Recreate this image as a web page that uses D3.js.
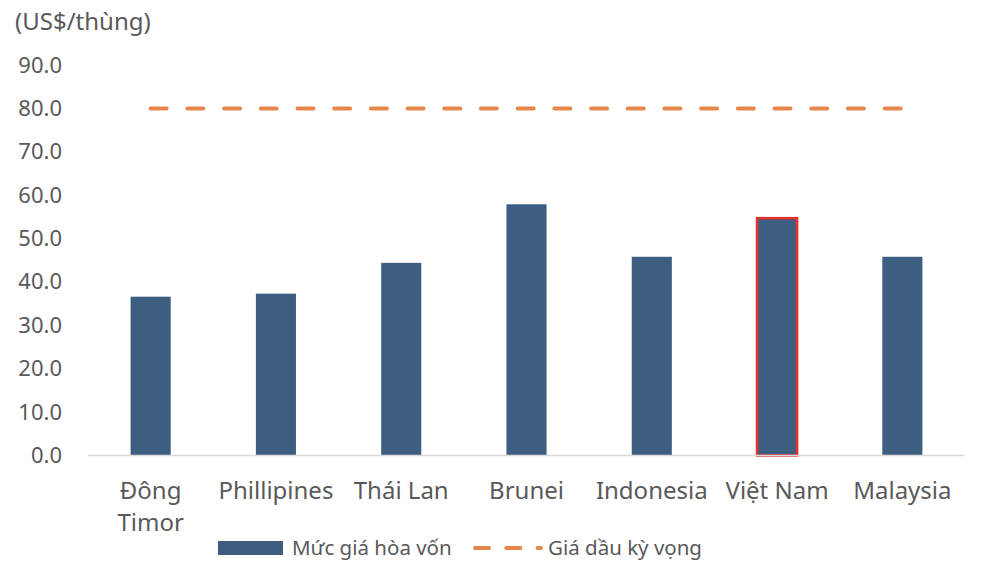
<!DOCTYPE html>
<html>
<head>
<meta charset="utf-8">
<script src="https://cdn.jsdelivr.net/npm/d3@7/dist/d3.min.js"></script>
<style>
  body { margin: 0; background: #fff; }
  text { font-family: 'Noto Sans', 'Open Sans', sans-serif; fill: #595959; }
</style>
</head>
<body>
<div id="chart"></div>
<script>
const WIDTH = 1000;
const HEIGHT = 576;

// Dữ liệu
const countries = ['Đông Timor', 'Phillipines', 'Thái Lan', 'Brunei', 'Indonesia', 'Việt Nam', 'Malaysia'];
const breakEven = [36.6, 37.3, 44.4, 57.9, 45.8, 54.7, 45.8];
const expectedPrice = [80, 80, 80, 80, 80, 80, 80];
const yTicks = [0, 10, 20, 30, 40, 50, 60, 70, 80, 90];
const highlight = 'Việt Nam';
const seriesNames = ['Mức giá hòa vốn', 'Giá dầu kỳ vọng'];
const unitLabel = '(US$/thùng)';

const margin = { top: 65, right: 35, bottom: 120.5, left: 88 };
const width = WIDTH - margin.left - margin.right;
const height = HEIGHT - margin.top - margin.bottom;

const BAR = '#3d5e80';
const LINE = '#e5864a';

const svg = d3.select('#chart').append('svg')
  .attr('width', WIDTH)
  .attr('height', HEIGHT);

const g = svg.append('g')
  .attr('transform', `translate(${margin.left},${margin.top})`);

const x = d3.scaleBand().domain(countries).range([0, width]).paddingInner(0.68).paddingOuter(0.34);
const y = d3.scaleLinear().domain([0, 90]).range([height, 0]);

// trục y (chỉ nhãn)
const yAxis = g.append('g')
  .call(d3.axisLeft(y).tickValues(yTicks).tickFormat(d3.format('.1f')).tickSize(0).tickPadding(26));
yAxis.select('.domain').remove();
yAxis.selectAll('text')
  .style('font-size', '22px')
  .style('font-family', "'Noto Sans', sans-serif")
  .attr('fill', '#595959');

// cột
g.selectAll('.bar')
  .data(countries)
  .enter()
  .append('rect')
  .attr('class', 'bar')
  .attr('x', d => x(d))
  .attr('y', (d, i) => y(breakEven[i]))
  .attr('width', x.bandwidth())
  .attr('height', (d, i) => y(0) - y(breakEven[i]))
  .attr('fill', BAR)
  .attr('stroke', d => d === highlight ? '#e8302a' : 'none')
  .attr('stroke-width', 2.5);

// trục x
g.append('line')
  .attr('x1', 0).attr('x2', width)
  .attr('y1', y(0)).attr('y2', y(0))
  .attr('stroke', '#d9d9d9')
  .attr('stroke-width', 1.5);

const xAxis = g.append('g')
  .attr('transform', `translate(0,${height})`)
  .call(d3.axisBottom(x).tickSize(0).tickPadding(0));
xAxis.select('.domain').remove();
xAxis.selectAll('text')
  .style('font-size', '24px')
  .style('font-family', "'Noto Sans', sans-serif")
  .attr('fill', '#595959')
  .attr('dy', null)
  .attr('y', 43)
  .each(function (d) {
    const t = d3.select(this);
    const words = d.split(' ');
    if (words.length > 1 && this.getComputedTextLength() > 120) {
      t.text(null);
      words.forEach((w, i) => {
        t.append('tspan').attr('x', 0).attr('dy', i === 0 ? 0 : 32).text(w);
      });
    }
  });

// đường giá dầu kỳ vọng
const line = d3.line()
  .x((d, i) => x(countries[i]) + x.bandwidth() / 2)
  .y(d => y(d));

g.append('path')
  .datum(expectedPrice)
  .attr('d', line)
  .attr('fill', 'none')
  .attr('stroke', LINE)
  .attr('stroke-width', 4)
  .attr('stroke-linecap', 'round')
  .attr('stroke-dasharray', '16,20.7');

// đơn vị
svg.append('text')
  .attr('x', 15)
  .attr('y', 30)
  .style('font-size', '24px')
  .text(unitLabel);

// chú giải
const legend = svg.append('g').attr('transform', 'translate(0,548)');
legend.append('rect')
  .attr('x', 218).attr('y', -7)
  .attr('width', 65).attr('height', 14)
  .attr('fill', BAR);
legend.append('text')
  .attr('x', 292).attr('y', 0).attr('dy', '0.35em')
  .style('font-size', '20.5px')
  .text(seriesNames[0]);
legend.append('line')
  .attr('x1', 475).attr('x2', 541)
  .attr('y1', 0).attr('y2', 0)
  .attr('stroke', LINE)
  .attr('stroke-width', 4)
  .attr('stroke-linecap', 'round')
  .attr('stroke-dasharray', '14,17.3');
legend.append('text')
  .attr('x', 548).attr('y', 0).attr('dy', '0.35em')
  .style('font-size', '20.5px')
  .text(seriesNames[1]);
</script>
</body>
</html>
